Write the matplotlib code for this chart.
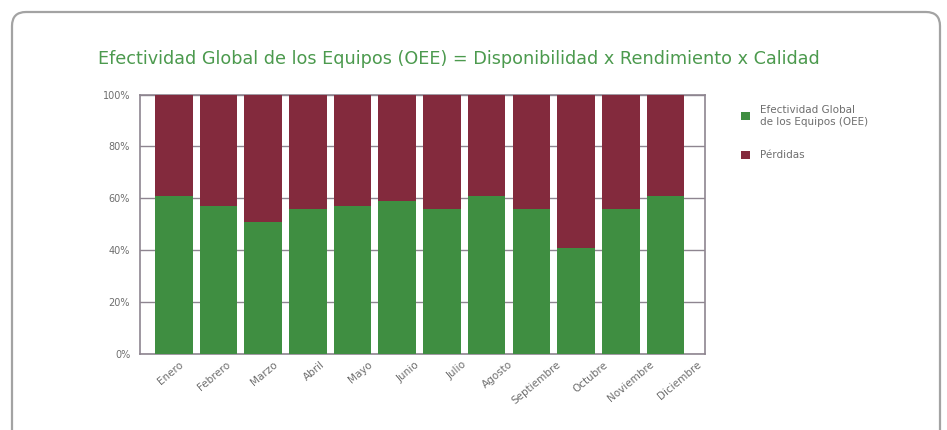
import matplotlib
matplotlib.use('Agg')
import matplotlib.pyplot as plt
import matplotlib.transforms as mtransforms
from matplotlib.patches import FancyBboxPatch

# Datos mensuales (%)
meses = ['Enero', 'Febrero', 'Marzo', 'Abril', 'Mayo', 'Junio', 'Julio',
         'Agosto', 'Septiembre', 'Octubre', 'Noviembre', 'Diciembre']
oee = [61, 57, 51, 56, 57, 59, 56, 61, 56, 41, 56, 61]
perdidas = [100 - v for v in oee]
y_ticks = [0, 20, 40, 60, 80, 100]

VERDE = '#3f8e41'
GRANATE = '#832a3d'
GRIS_EJE = '#8e8590'
GRIS_TEXTO = '#6e6e6e'

plt.rcParams['font.family'] = ['DejaVu Sans']

fig = plt.figure(figsize=(9.47, 4.30), dpi=100)
fig.patch.set_facecolor('white')

# marco redondeado (coordenadas en pixeles)
marco = FancyBboxPatch((12, -30), 928, 448, boxstyle='round,pad=0,rounding_size=14',
                       transform=None, facecolor='none', edgecolor='#a3a3a3',
                       linewidth=1.6)
fig.add_artist(marco)

ax = fig.add_axes([0.1478, 0.1767, 0.5966, 0.6035])
x = list(range(len(meses)))
b1 = ax.bar(x, oee, width=0.84, color=VERDE, zorder=3,
            label='Efectividad Global\nde los Equipos (OEE)')
b2 = ax.bar(x, perdidas, width=0.84, bottom=oee, color=GRANATE, zorder=3,
            label='Pérdidas')

ax.set_xlim(-0.756, 11.884)
ax.set_ylim(0, 100)
ax.set_yticks(y_ticks)
ax.set_yticklabels([f'{v}%' for v in y_ticks])
ax.tick_params(axis='y', length=0, pad=7, labelsize=7, labelcolor=GRIS_TEXTO)
ax.set_xticks([])
ax.grid(axis='y', color=GRIS_EJE, linewidth=1.0, zorder=0)
for s in ax.spines.values():
    s.set_color(GRIS_EJE)
    s.set_linewidth(1.2)

# etiquetas de meses sobre un eje gemelo con categorias uniformes
ax_lab = ax.twiny()
ax_lab.set_xlim(-0.5, len(meses) - 0.5)
ax_lab.xaxis.set_ticks_position('bottom')
ax_lab.set_xticks(x)
ax_lab.set_xticklabels(meses, rotation=40, ha='right', fontsize=7.5,
                       color=GRIS_TEXTO)
ax_lab.tick_params(axis='x', length=0, pad=4)
for s in ax_lab.spines.values():
    s.set_visible(False)
desplaza = mtransforms.ScaledTranslation(22 / 100, 0, fig.dpi_scale_trans)
for lbl in ax_lab.get_xticklabels():
    lbl.set_transform(lbl.get_transform() + desplaza)

fig.text(0.4847, 0.863,
         'Efectividad Global de los Equipos (OEE) = Disponibilidad x Rendimiento x Calidad',
         ha='center', va='center', fontsize=12.7, color='#4c9a4e')

fig.legend(handles=[b1, b2], loc='upper left', bbox_to_anchor=(0.773, 0.777),
           frameon=False, fontsize=7.5, labelcolor=GRIS_TEXTO,
           handlelength=0.8, handleheight=0.8, handletextpad=1.0,
           labelspacing=2.25)

fig.savefig('out.png', dpi=100)
plt.close(fig)
